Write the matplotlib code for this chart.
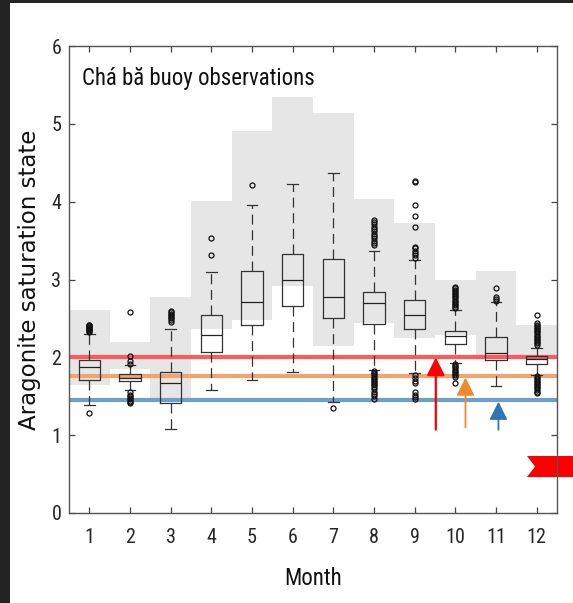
import matplotlib
matplotlib.use("Agg")
import matplotlib.pyplot as plt
from matplotlib.patches import Polygon, Rectangle
import numpy as np

# ---------------- data ----------------
months = [1, 2, 3, 4, 5, 6, 7, 8, 9, 10, 11, 12]
month_labels = ["1", "2", "3", "4", "5", "6", "7", "8", "9", "10", "11", "12"]

# shaded range per month (low, high)
band_low = [1.65, 1.85, 1.47, 2.37, 2.48, 2.92, 2.15, 2.44, 2.25, 2.29, 2.03, 2.02]
band_high = [2.61, 2.20, 2.77, 4.01, 4.91, 5.34, 5.14, 4.04, 3.72, 2.99, 3.11, 2.42]

# box statistics
whisker_low = [1.39, 1.58, 1.08, 1.58, 1.71, 1.81, 1.43, 1.84, 1.80, 1.93, 1.63, 1.77]
q1 = [1.71, 1.69, 1.41, 2.07, 2.42, 2.66, 2.50, 2.43, 2.36, 2.17, 1.96, 1.92]
median = [1.87, 1.74, 1.67, 2.29, 2.71, 2.99, 2.77, 2.70, 2.54, 2.27, 2.06, 1.98]
q3 = [1.96, 1.78, 1.81, 2.54, 3.11, 3.33, 3.26, 2.84, 2.74, 2.34, 2.26, 2.02]
whisker_high = [2.30, 1.90, 2.37, 3.09, 3.96, 4.23, 4.37, 3.37, 3.25, 2.61, 2.71, 2.12]

outliers = [
    [1.29, 2.32, 2.34, 2.35, 2.36, 2.37, 2.38, 2.39, 2.40, 2.41, 2.42],
    [1.41, 1.43, 1.44, 1.46, 1.48, 1.50, 1.52, 1.55, 1.92, 1.95, 2.02, 2.58],
    [2.45, 2.48, 2.50, 2.52, 2.54, 2.56, 2.58, 2.60],
    [3.31, 3.53],
    [4.22],
    [],
    [1.35],
    [1.47, 1.50, 1.53, 1.56, 1.59, 1.62, 1.64, 1.66, 1.68, 1.70, 1.72, 1.74,
     1.76, 1.78, 1.80, 1.82, 3.44, 3.47, 3.50, 3.53, 3.56, 3.59, 3.62, 3.65,
     3.68, 3.71, 3.74, 3.77],
    [1.46, 1.49, 1.52, 1.56, 1.67, 1.70, 1.73, 1.77, 3.28, 3.31, 3.34, 3.37,
     3.40, 3.42, 3.68, 3.82, 3.96, 4.25, 4.27],
    [1.67, 1.75, 1.77, 1.79, 1.81, 1.83, 1.85, 1.87, 1.89, 1.91, 2.63, 2.65,
     2.67, 2.69, 2.71, 2.73, 2.75, 2.77, 2.79, 2.81, 2.83, 2.85, 2.87, 2.89, 2.91],
    [2.73, 2.75, 2.77, 2.89],
    [1.54, 1.56, 1.58, 1.60, 1.62, 1.64, 1.66, 1.68, 1.70, 1.72, 1.74, 1.76,
     2.16, 2.18, 2.20, 2.22, 2.24, 2.26, 2.28, 2.30, 2.32, 2.34, 2.36, 2.38,
     2.40, 2.42, 2.44, 2.54],
]

# threshold lines
thresholds = [2.00, 1.76, 1.45]
threshold_colors = ["#ff5a5a", "#f2a46f", "#6d9ecc"]

# arrows (x, tail y, tip y)
arrow_x = [9.52, 10.25, 11.06]
arrow_tail = [1.07, 1.10, 1.07]
arrow_tip = [2.00, 1.74, 1.43]
arrow_colors = ["#ff0000", "#ef8a2c", "#2e75b6"]
arrow_lw = [1.6, 1.3, 1.3]

yticks = [0, 1, 2, 3, 4, 5, 6]

title_text = "Chá bă buoy observations"
xlabel_text = "Month"
ylabel_text = "Aragonite saturation state"

# ---------------- figure ----------------
W, H = 573, 603
fig = plt.figure(figsize=(W / 100, H / 100), dpi=100)
fig.patch.set_facecolor("white")

# dark screenshot frame
fig.patches.append(Rectangle((0, 0), 10 / W, 1, transform=fig.transFigure,
                             facecolor="#232323", edgecolor="none", zorder=0))
fig.patches.append(Rectangle((0, 1 - 3 / H), 1, 3 / H, transform=fig.transFigure,
                             facecolor="#232323", edgecolor="none", zorder=0))

left, right, top, bottom = 69, 557, 46, 513
ax = fig.add_axes([left / W, 1 - bottom / H, (right - left) / W, (bottom - top) / H])

narrow = ["Roboto Condensed", "DejaVu Sans"]

# grey bands
ax.bar(months, np.array(band_high) - np.array(band_low), bottom=band_low,
       width=1.0, color="#e6e6e6", linewidth=0, zorder=1)

# threshold lines
for yv, c in zip(thresholds, threshold_colors):
    ax.axhline(yv, color=c, lw=3.0, zorder=2)

# boxplots
stats = []
for i in range(len(months)):
    stats.append(dict(med=median[i], q1=q1[i], q3=q3[i],
                      whislo=whisker_low[i], whishi=whisker_high[i],
                      fliers=outliers[i]))
ax.bxp(stats, positions=months, widths=0.52, capwidths=0.26, showfliers=True,
       boxprops=dict(color="#333333", lw=0.9),
       medianprops=dict(color="#222222", lw=0.9),
       whiskerprops=dict(color="#333333", lw=0.9, linestyle=(0, (8, 4.5))),
       capprops=dict(color="#333333", lw=0.9),
       flierprops=dict(marker="o", markersize=3.6, markerfacecolor="none",
                       markeredgecolor="#111111", markeredgewidth=0.9),
       manage_ticks=False, zorder=3)

# arrows
for xa, yt, yh, c, lw in zip(arrow_x, arrow_tail, arrow_tip, arrow_colors, arrow_lw):
    ax.annotate("", xy=(xa, yh), xytext=(xa, yt),
                arrowprops=dict(arrowstyle="-|>,head_length=1.1,head_width=0.55",
                                color=c, lw=lw, shrinkA=0, shrinkB=0,
                                mutation_scale=10), zorder=4)

ax.set_xlim(0.5, 12.5)
ax.set_ylim(0, 6)
ax.set_xticks(months)
ax.set_xticklabels(month_labels)
ax.set_yticks(yticks)
ax.set_yticklabels([str(t) for t in yticks])

for s in ax.spines.values():
    s.set_color("#555555")
    s.set_linewidth(1.0)
ax.tick_params(axis="both", direction="in", length=4, width=0.9, color="#444444",
               top=True, right=True, labelsize=14.5, labelcolor="#262626")
ax.tick_params(axis="x", pad=11)
ax.tick_params(axis="y", pad=5.5)
for lab in ax.get_xticklabels() + ax.get_yticklabels():
    lab.set_family(narrow)

ax.text((82 - left) / (right - left), (bottom - 85) / (bottom - top), title_text,
        transform=ax.transAxes, ha="left", va="baseline", fontsize=16.5,
        family=narrow, color="#111111", zorder=5)

ax.set_xlabel(xlabel_text, fontsize=16.5, family=narrow, color="#111111",
              va="center", ha="center")
ax.xaxis.set_label_coords(0.5, -(578.5 - bottom) / (bottom - top))
ax.set_ylabel(ylabel_text, fontsize=16.5, family=["DejaVu Sans"], color="#111111",
              va="center", ha="center")
ax.yaxis.set_label_coords(-(69 - 30) / (right - left), 0.5)

# red flag marker at the right edge
flag = Polygon([(527 / W, 1 - 456 / H), (1.0, 1 - 456 / H), (1.0, 1 - 477 / H),
                (527 / W, 1 - 477 / H), (535 / W, 1 - 466.5 / H)],
               closed=True, transform=fig.transFigure, facecolor="#ff0000",
               edgecolor="none", clip_on=False, zorder=2)
ax.add_patch(flag)

fig.savefig("out.png", dpi=100)
